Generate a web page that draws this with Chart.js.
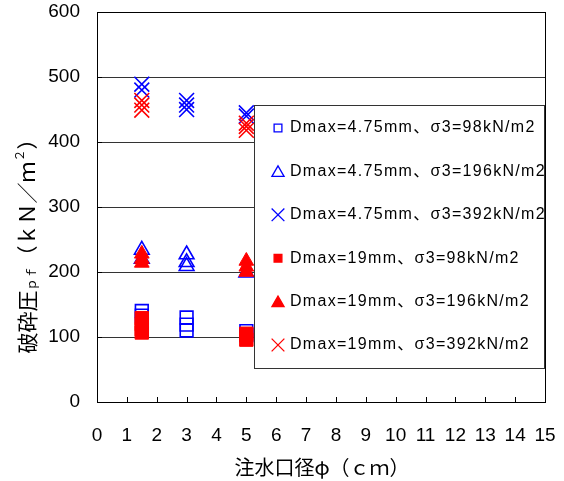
<!DOCTYPE html>
<html>
<head>
<meta charset="utf-8">
<script src="https://cdn.jsdelivr.net/npm/chart.js@4.4.1/dist/chart.umd.min.js"></script>
<style>
  html, body { margin: 0; padding: 0; background: #fff; }
  #wrap { width: 564px; height: 481px; position: relative; }
</style>
</head>
<body>
<div id="wrap"><canvas id="chart"></canvas></div>
<script>
// 注水口径 (cm) と破砕圧 pf (kN/m2)
const xTicks = [0, 1, 2, 3, 4, 5, 6, 7, 8, 9, 10, 11, 12, 13, 14, 15];
const yTicks = [0, 100, 200, 300, 400, 500, 600];

const seriesLabels = [
  "Dmax=4.75mm、σ3=98kN/m2",
  "Dmax=4.75mm、σ3=196kN/m2",
  "Dmax=4.75mm、σ3=392kN/m2",
  "Dmax=19mm、σ3=98kN/m2",
  "Dmax=19mm、σ3=196kN/m2",
  "Dmax=19mm、σ3=392kN/m2",
];

const s475_98_x = [1.5, 1.5, 3, 3, 3, 5, 5];
const s475_98_y = [140, 133, 130, 119, 110, 109, 103];
const s475_196_x = [1.5, 1.5, 3, 3, 3, 5];
const s475_196_y = [234, 220, 227, 215, 209, 199];
const s475_392_x = [1.5, 1.5, 3, 3, 3, 5, 5];
const s475_392_y = [489, 480, 464, 457, 450, 445, 440];
const s19_98_x = [1.5, 1.5, 1.5, 1.5, 5, 5];
const s19_98_y = [129, 120, 112, 107, 105, 96];
const s19_196_x = [1.5, 1.5, 1.5, 5, 5, 5];
const s19_196_y = [228, 220, 214, 217, 208, 200];
const s19_392_x = [1.5, 1.5, 1.5, 5, 5, 5];
const s19_392_y = [464, 457, 449, 429, 424, 418];

const BLUE = "#0000ff";
const RED = "#ff0000";
const FONT = '"Liberation Sans", "Noto Sans CJK JP", sans-serif';
const JFONT = '"Noto Sans CJK JP", sans-serif';

function pts(xs, ys) {
  return xs.map((x, i) => ({ x, y: ys[i] }));
}

// 凡例用のマーカー設定
const legendMarks = [
  { pointStyle: "rect", radius: 5.5, color: BLUE, fill: false },
  { pointStyle: "triangle", radius: 7, color: BLUE, fill: false },
  { pointStyle: "crossRot", radius: 9, color: BLUE, fill: false },
  { pointStyle: "rect", radius: 5.5, color: RED, fill: true },
  { pointStyle: "triangle", radius: 7, color: RED, fill: true },
  { pointStyle: "crossRot", radius: 9, color: RED, fill: true },
];

const datasets = [
  { label: seriesLabels[0], data: pts(s475_98_x, s475_98_y), pointStyle: "rect", pointRadius: 9,
    borderColor: BLUE, backgroundColor: "rgba(0,0,0,0)", borderWidth: 1.6, order: 1 },
  { label: seriesLabels[1], data: pts(s475_196_x, s475_196_y), pointStyle: "triangle", pointRadius: 8.5,
    borderColor: BLUE, backgroundColor: "rgba(0,0,0,0)", borderWidth: 1.6, order: 1 },
  { label: seriesLabels[2], data: pts(s475_392_x, s475_392_y), pointStyle: "crossRot", pointRadius: 10.5,
    borderColor: BLUE, backgroundColor: BLUE, borderWidth: 1.6, order: 1 },
  { label: seriesLabels[3], data: pts(s19_98_x, s19_98_y), pointStyle: "rect", pointRadius: 9.5,
    borderColor: RED, backgroundColor: RED, borderWidth: 1, order: 0 },
  { label: seriesLabels[4], data: pts(s19_196_x, s19_196_y), pointStyle: "triangle", pointRadius: 8.5,
    borderColor: RED, backgroundColor: RED, borderWidth: 1, order: 0 },
  { label: seriesLabels[5], data: pts(s19_392_x, s19_392_y), pointStyle: "crossRot", pointRadius: 10.5,
    borderColor: RED, backgroundColor: RED, borderWidth: 1.6, order: 0 },
];

// 枠・内向き目盛り・軸タイトル・凡例を描く
const frame = {
  id: "frame",
  afterDraw(chart) {
    const { ctx, chartArea: a, scales } = chart;
    ctx.save();
    ctx.strokeStyle = "#000";
    ctx.lineWidth = 1;
    ctx.strokeRect(Math.round(a.left) + 0.5, Math.round(a.top) + 0.5,
      Math.round(a.right - a.left), Math.round(a.bottom - a.top));

    ctx.beginPath();
    xTicks.forEach((v) => {
      const px = Math.round(scales.x.getPixelForValue(v)) + 0.5;
      ctx.moveTo(px, a.bottom);
      ctx.lineTo(px, a.bottom - 5);
    });
    yTicks.forEach((v) => {
      const py = Math.round(scales.y.getPixelForValue(v)) + 0.5;
      ctx.moveTo(a.left, py);
      ctx.lineTo(a.left + 5, py);
    });
    ctx.stroke();

    // 凡例
    const bx = 254.5, by = 105.5, bw = 290, bh = 263;
    ctx.fillStyle = "#fff";
    ctx.fillRect(bx, by, bw, bh);
    ctx.strokeStyle = "#333";
    ctx.strokeRect(bx, by, bw, bh);
    ctx.font = "16px " + FONT;
    ctx.letterSpacing = "1.3px";
    ctx.textBaseline = "middle";
    ctx.textAlign = "left";
    legendMarks.forEach((m, i) => {
      const cy = 128 + i * 43.4;
      ctx.strokeStyle = m.color;
      ctx.fillStyle = m.fill ? m.color : "rgba(0,0,0,0)";
      ctx.lineWidth = 1.3;
      Chart.helpers.drawPoint(ctx, { pointStyle: m.pointStyle, radius: m.radius, rotation: 0, borderWidth: 1.3 },
        278, cy + (m.pointStyle === "triangle" ? 1.5 : 0));
      ctx.fillStyle = "#000";
      ctx.fillText(seriesLabels[i], 290, cy);
    });
    ctx.letterSpacing = "0px";

    // X軸タイトル
    ctx.fillStyle = "#000";
    ctx.font = "20px " + JFONT;
    ctx.textAlign = "center";
    ctx.textBaseline = "middle";
    ctx.fillText("注水口径φ（ｃｍ）", 322, 467);

    // Y軸タイトル (下付き pf, 上付き 2)
    ctx.translate(27, 241);
    ctx.rotate(-Math.PI / 2);
    const parts = [
      { t: "破砕圧", size: 21, dy: 0 },
      { t: "ｐｆ", size: 12, dy: 4 },
      { t: "（ｋＮ／ｍ", size: 21, dy: 0 },
      { t: "２", size: 12, dy: -8 },
      { t: "）", size: 21, dy: 0 },
    ];
    let total = 0;
    parts.forEach((p) => {
      ctx.font = p.size + "px " + JFONT;
      p.w = ctx.measureText(p.t).width;
      total += p.w;
    });
    let x = -total / 2;
    ctx.textAlign = "left";
    parts.forEach((p) => {
      ctx.font = p.size + "px " + JFONT;
      ctx.fillText(p.t, x, p.dy);
      x += p.w;
    });
    ctx.restore();
  },
};

new Chart(document.getElementById("chart"), {
  type: "scatter",
  data: { datasets },
  options: {
    responsive: true,
    maintainAspectRatio: false,
    animation: false,
    layout: { padding: { top: 12, right: 19, left: 0, bottom: 0 } },
    plugins: { legend: { display: false }, tooltip: { enabled: false } },
    scales: {
      x: {
        type: "linear",
        min: 0,
        max: 15,
        afterFit: (s) => { s.height = 79; s.paddingLeft = 0; s.paddingRight = 0; },
        afterBuildTicks: (s) => { s.ticks = xTicks.map((v) => ({ value: v })); },
        grid: { display: false },
        border: { display: false },
        ticks: { autoSkip: false, maxRotation: 0, color: "#000", padding: 14, font: { family: FONT, size: 19 } },
      },
      y: {
        type: "linear",
        min: 0,
        max: 600,
        afterFit: (s) => { s.width = 97; s.paddingTop = 0; s.paddingBottom = 0; },
        afterBuildTicks: (s) => { s.ticks = yTicks.map((v) => ({ value: v })); },
        grid: { color: "#333", lineWidth: 1, drawTicks: false },
        border: { display: false },
        ticks: { color: "#000", padding: 17, font: { family: FONT, size: 19 } },
      },
    },
  },
  plugins: [frame],
});
</script>
</body>
</html>
